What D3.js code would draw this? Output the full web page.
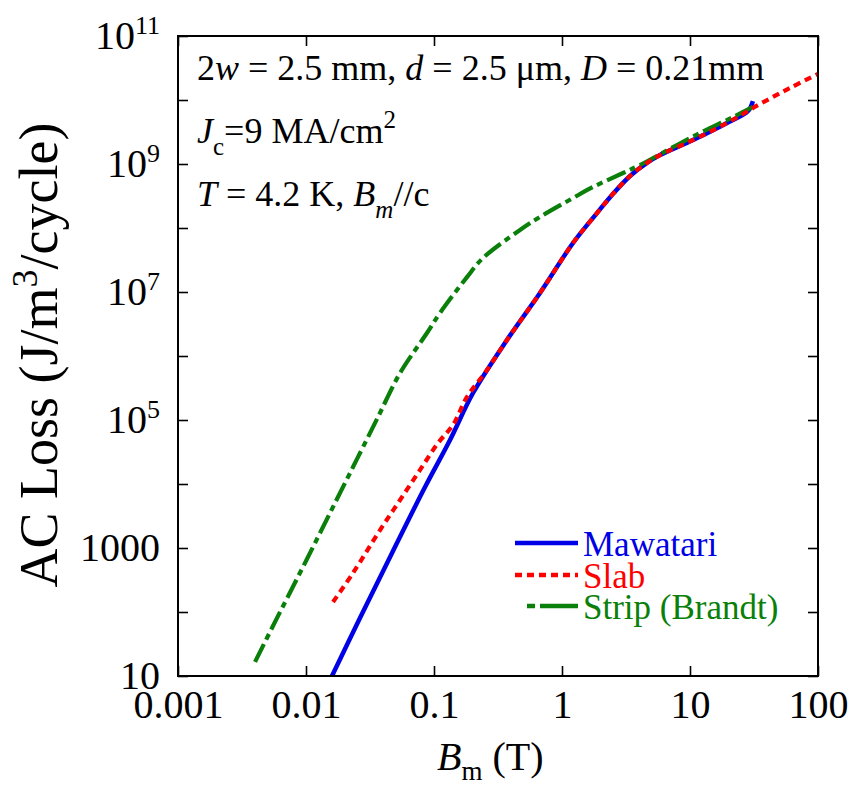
<!DOCTYPE html>
<html><head><meta charset="utf-8">
<script src="https://cdn.jsdelivr.net/npm/d3@7"></script>
<style>body{margin:0;background:#fff} svg text{font-family:"Liberation Serif",Tinos,"Times New Roman",Times,"DejaVu Serif",serif !important}</style>
</head><body><svg id="c" width="850" height="787" font-family="Liberation Serif, Tinos, Times New Roman, Times, DejaVu Serif, serif"></svg>
<script>
// ---- data ----
const mawatariB = [0.01596,0.02594,0.0470,0.0851,0.1334,0.2018,0.3715,0.673,1.219,1.876,2.46,3.40,4.61,5.83,10.55,19.45,28.4,31.0];
const mawatariLoss = [10,75,835,8980,4.87e4,2.64e5,1.78e6,9.64e6,5.83e7,1.71e8,3.28e8,6.49e8,1.04e9,1.38e9,2.37e9,4.37e9,6.73e9,9.64e9];
const slabB = [0.01625,0.02329,0.0379,0.0543,0.0778,0.1075,0.1406,0.181,0.2594,0.3715,0.673,1.219,1.876,2.46,3.40,4.61,5.83,10.55,19.45,35.2,60.4,100];
const slabLoss = [143,407,1910,5620,1.66e4,4.37e4,8.35e4,2.29e5,6.04e5,1.78e6,9.64e6,5.83e7,1.71e8,3.28e8,6.49e8,1.04e9,1.38e9,2.37e9,4.37e9,8.66e9,1.54e10,2.55e10];
const stripB = [0.0040,0.00552,0.01018,0.01746,0.02329,0.0279,0.0359,0.0543,0.0881,0.1114,0.181,0.2415,0.470,0.673,1.219,1.746,2.998,4.07,7.91,11.97,21.7,31.0];
const stripLoss = [16.6,60.4,673,5830,1.84e4,3.79e4,1.04e5,5.42e5,2.29e6,4.70e6,1.71e7,3.40e7,9.31e7,1.49e8,2.94e8,4.37e8,7.23e8,9.64e8,1.98e9,3.05e9,5.42e9,7.78e9];

const seriesNames = ["Mawatari","Slab","Strip (Brandt)"];
const seriesColors = ["#0000e6","#ff0000","#0a800a"];

const xTicks = [0.001,0.01,0.1,1,10,100];
const xTickLabels = ["0.001","0.01","0.1","1","10","100"];
const yTicks = [1e1,1e2,1e3,1e4,1e5,1e6,1e7,1e8,1e9,1e10,1e11];
const yLabelValues = [1e1,1e3,1e5,1e7,1e9,1e11];
const yLabelBase = ["10","1000","10","10","10","10"];
const yLabelSup = ["","","5","7","9","11"];

// ---- layout ----
const L = 178, R = 818, T = 36, B = 676;
const FONT = "Liberation Serif, Tinos, Times New Roman, Times, DejaVu Serif, serif";
const svg = d3.select("#c");
const x = d3.scaleLog().domain([0.001,100]).range([L,R]);
const y = d3.scaleLog().domain([10,1e11]).range([B,T]);

svg.append("clipPath").attr("id","clip").append("rect")
  .attr("x",L).attr("y",T).attr("width",R-L).attr("height",B-T);

function styleAxis(g){
  g.attr("font-family",FONT).attr("font-size",null);
  g.select(".domain").remove();
  g.selectAll(".tick line").attr("stroke","#000").attr("stroke-width",1.6);
}
const gx = svg.append("g").attr("transform",`translate(0,${B})`)
  .call(d3.axisBottom(x).tickValues(xTicks).tickSize(-10).tickSizeOuter(0).tickPadding(14)
    .tickFormat((d,i)=>xTickLabels[i]));
styleAxis(gx);
gx.selectAll(".tick text").attr("font-size",40).attr("fill","#000");

const gy = svg.append("g").attr("transform",`translate(${L},0)`)
  .call(d3.axisLeft(y).tickValues(yTicks).tickSize(-10).tickSizeOuter(0).tickPadding(18).tickFormat(()=>""));
styleAxis(gy);
gy.selectAll(".tick").each(function(d){
  const i = yLabelValues.indexOf(d);
  const t = d3.select(this).select("text").attr("font-size",40).attr("fill","#000");
  if(i<0) return;
  t.text(yLabelBase[i]);
  if(yLabelSup[i]) t.append("tspan").attr("dy",-15).attr("font-size",26).text(yLabelSup[i]);
});

const gt = svg.append("g").attr("transform",`translate(0,${T})`)
  .call(d3.axisTop(x).tickValues(xTicks).tickSize(-10).tickSizeOuter(0).tickFormat(()=>""));
styleAxis(gt);
const gr = svg.append("g").attr("transform",`translate(${R},0)`)
  .call(d3.axisRight(y).tickValues(yTicks).tickSize(-10).tickSizeOuter(0).tickFormat(()=>""));
styleAxis(gr);

// lines
const line = d3.line().x(d=>x(d[0])).y(d=>y(d[1])).curve(d3.curveCatmullRom.alpha(0.5));
const plot = svg.append("g").attr("clip-path","url(#clip)");
const zip = (a,b)=>a.map((v,i)=>[v,b[i]]);
plot.append("path").datum(zip(mawatariB,mawatariLoss)).attr("d",line)
  .attr("fill","none").attr("stroke",seriesColors[0]).attr("stroke-width",4.5);
plot.append("path").datum(zip(stripB,stripLoss)).attr("d",line)
  .attr("fill","none").attr("stroke",seriesColors[2]).attr("stroke-width",4.2)
  .attr("stroke-dasharray","20,5,6,5");
plot.append("path").datum(zip(slabB,slabLoss)).attr("d",line)
  .attr("fill","none").attr("stroke",seriesColors[1]).attr("stroke-width",4.2)
  .attr("stroke-dasharray","7,5");

// frame
svg.append("rect").attr("x",L).attr("y",T).attr("width",R-L).attr("height",B-T)
  .attr("fill","none").attr("stroke","#000").attr("stroke-width",2);

// legend
const leg = [
  {x1:515,y:543,dash:null},
  {x1:515,y:575,dash:"7,5"},
  {x1:527,y:606,dash:"8,5,32,0"}
];
leg.forEach((l,i)=>{
  svg.append("line").attr("x1",l.x1).attr("x2",578).attr("y1",l.y).attr("y2",l.y)
    .attr("stroke",seriesColors[i]).attr("stroke-width",4.5)
    .attr("stroke-dasharray",l.dash);
  svg.append("text").attr("x",583).attr("y",l.y+13).attr("font-size",35)
    .style("fill",seriesColors[i]).text(seriesNames[i]);
});

// annotations
const a1 = svg.append("text").attr("x",197).attr("y",80).attr("font-size",36);
a1.append("tspan").text("2");
a1.append("tspan").attr("font-style","italic").text("w");
a1.append("tspan").text(" = 2.5 mm, ");
a1.append("tspan").attr("font-style","italic").text("d");
a1.append("tspan").text(" = 2.5 μm, ");
a1.append("tspan").attr("font-style","italic").text("D");
a1.append("tspan").text(" = 0.21mm");

const a2 = svg.append("text").attr("x",197).attr("y",143).attr("font-size",36);
a2.append("tspan").attr("font-style","italic").text("J");
a2.append("tspan").attr("font-size",25).attr("dy",12).text("c");
a2.append("tspan").attr("dy",-12).text("=9 MA/cm");
a2.append("tspan").attr("font-size",25).attr("dy",-15).text("2");

const a3 = svg.append("text").attr("x",197).attr("y",206).attr("font-size",36);
a3.append("tspan").attr("font-style","italic").text("T");
a3.append("tspan").text(" = 4.2 K, ");
a3.append("tspan").attr("font-style","italic").text("B");
a3.append("tspan").attr("font-style","italic").attr("font-size",25).attr("dy",12).text("m");
a3.append("tspan").attr("dy",-12).text("//c");

// axis titles
const xt = svg.append("text").attr("x",437).attr("y",770).attr("font-size",40);
xt.append("tspan").attr("font-style","italic").text("B");
xt.append("tspan").attr("font-size",27).attr("dy",10).text("m");
xt.append("tspan").attr("dy",-10).text(" (T)");

const yt = svg.append("text").attr("transform","translate(57,355) rotate(-90)")
  .attr("text-anchor","middle").attr("font-size",54);
yt.append("tspan").text("AC Loss (J/m");
yt.append("tspan").attr("font-size",36).attr("dy",-20).text("3");
yt.append("tspan").attr("dy",20).text("/cycle)");
</script></body></html>
